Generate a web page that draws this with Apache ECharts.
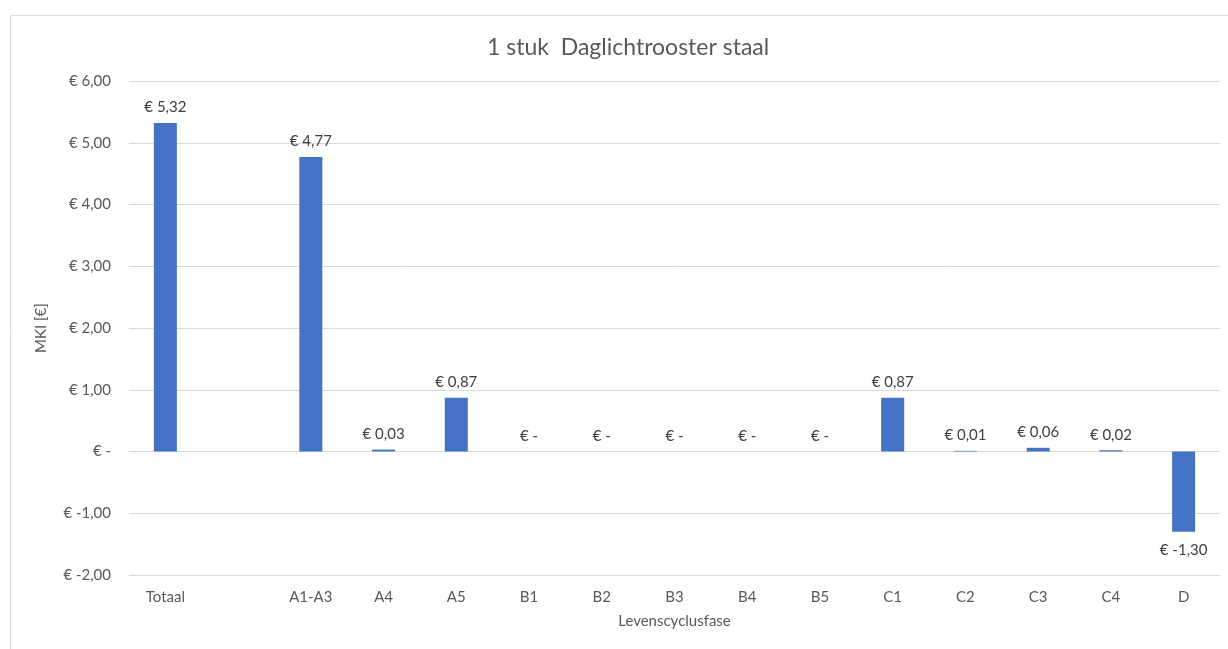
<!DOCTYPE html>
<html>
<head>
<meta charset="utf-8">
<script src="https://cdn.jsdelivr.net/npm/echarts@6/dist/echarts.min.js"></script>
<style>
html,body{margin:0;padding:0;background:#fff;}
#c{width:1228px;height:649px;}
</style>
</head>
<body>
<div id="c"></div>
<script>
const categories = ['Totaal', '', 'A1-A3', 'A4', 'A5', 'B1', 'B2', 'B3', 'B4', 'B5', 'C1', 'C2', 'C3', 'C4', 'D'];
const values = [5.32, null, 4.77, 0.03, 0.87, 0, 0, 0, 0, 0, 0.87, 0.01, 0.06, 0.02, -1.30];
const yTicks = { min: -2, max: 6, interval: 1 };
const titleText = '1 stuk  Daglichtrooster staal';

function euro(v) {
  if (Math.abs(v) < 1e-9) return '€ -';
  return '€ ' + v.toFixed(2).replace('.', ',');
}

const chart = echarts.init(document.getElementById('c'), null, { renderer: 'canvas' });
const FONT = 'Lato, "Open Sans", sans-serif';
chart.setOption({
  animation: false,
  textStyle: { fontFamily: FONT },
  graphic: [{
    type: 'rect', left: 8, top: 13, shape: { width: 1240, height: 660 },
    style: { fill: 'none', stroke: '#d9d9d9', lineWidth: 1 }
  }],
  title: {
    text: titleText, left: 482, top: 31,
    textStyle: { fontSize: 23, fontWeight: 'normal', color: '#595959', fontFamily: FONT }
  },
  grid: { left: 129, right: 8, top: 81, bottom: 74 },
  xAxis: {
    type: 'category', data: categories,
    axisLine: { show: false }, axisTick: { show: false },
    axisLabel: { color: '#595959', fontSize: 15, margin: 15, interval: 0 },
    name: 'Levenscyclusfase', nameLocation: 'middle', nameGap: 39,
    nameTextStyle: { color: '#595959', fontSize: 15 }
  },
  yAxis: {
    type: 'value', min: yTicks.min, max: yTicks.max, interval: yTicks.interval,
    axisLine: { show: false }, axisTick: { show: false },
    splitLine: { lineStyle: { color: '#d9d9d9', width: 1 } },
    axisLabel: { color: '#595959', fontSize: 15, margin: 18, formatter: euro },
    name: 'MKI [€]', nameLocation: 'middle', nameGap: 80, nameRotate: 90,
    nameTextStyle: { color: '#595959', fontSize: 15 }
  },
  series: [{
    type: 'bar', data: values.map(v => v !== null && v < 0 ? { value: v, label: { position: 'bottom', distance: 11 } } : v),
    barWidth: 23,
    itemStyle: { color: '#4472c4' },
    label: {
      show: true, position: 'top', distance: 8, color: '#404040', fontSize: 15,
      formatter: p => (p.value === null || p.value === undefined) ? '' : euro(p.value)
    }
  }]
});
</script>
</body>
</html>
